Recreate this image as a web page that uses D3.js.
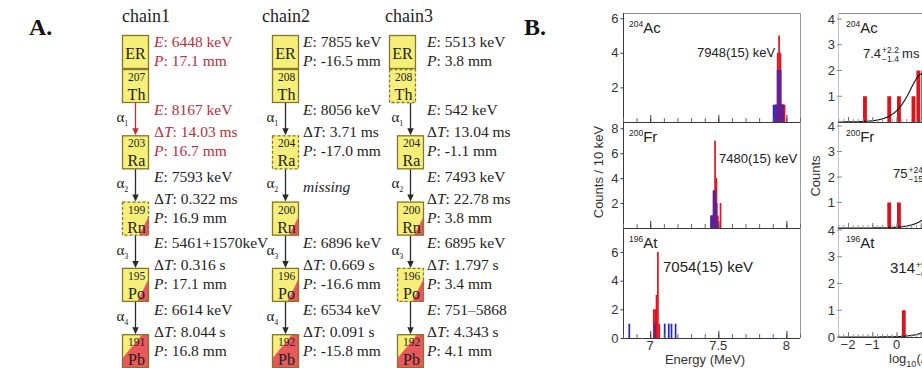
<!DOCTYPE html>
<html>
<head>
<meta charset="utf-8">
<script src="https://cdn.jsdelivr.net/npm/d3@7"></script>
<style>
html, body { margin: 0; padding: 0; background: #fff; }
svg { display: block; }
</style>
</head>
<body>
<svg id="fig" width="922" height="368"></svg>
<script>
// ---------- Panel A: observed decay chains ----------
const chainNames = ["chain1", "chain2", "chain3"];
const erEnergy = ["6448 keV", "7855 keV", "5513 keV"];
const erPosition = ["17.1 mm", "-16.5 mm", "3.8 mm"];
const elements = ["Th", "Ra", "Rn", "Po", "Pb"];
const massNumbers = [
  [207, 203, 199, 195, 191],
  [208, 204, 200, 196, 192],
  [208, 204, 200, 196, 192]
];
// tentative members of a chain (dashed outline)
const tentative = [
  [false, false, true, false, false],
  [false, true, false, false, false],
  [true, false, false, true, false]
];
const decayEnergy = [
  ["8167 keV", "7593 keV", "5461+1570keV", "6614 keV"],
  ["8056 keV", null, "6896 keV", "6534 keV"],
  ["542 keV", "7493 keV", "6895 keV", "751\u20135868 keV"]
];
const decayTime = [
  ["14.03 ms", "0.322 ms", "0.316 s", "8.044 s"],
  ["3.71 ms", null, "0.669 s", "0.091 s"],
  ["13.04 ms", "22.78 ms", "1.797 s", "4.343 s"]
];
const decayPosition = [
  ["16.7 mm", "16.9 mm", "17.1 mm", "16.8 mm"],
  ["-17.0 mm", null, "-16.6 mm", "-15.8 mm"],
  ["-1.1 mm", "3.8 mm", "3.4 mm", "4.1 mm"]
];
const alphaIndex = [[1, 2, 3, 4], [1, 2, 3, 4], [1, 2, 3, null]];

// ---------- Panel B: energy spectra (10 keV bins, [bin start keV, counts]) ----------
const isotopeMass = ["204", "200", "196"];
const isotopeSymbol = ["Ac", "Fr", "At"];
const peakLabels = ["7948(15) keV", "7480(15) keV", "7054(15) keV"];
const energyTicks = [7, 7.5, 8];
const countTicks = [[2, 4, 6], [2, 4, 6, 8], [0, 2, 4, 6]];
const redSpectra = [
  [[7920, 1], [7930, 4], [7940, 5], [7950, 4], [7960, 1], [7970, 1], [7980, 1]],
  [[7450, 1], [7460, 3], [7470, 7], [7480, 4], [7490, 1], [7510, 2]],
  [[7020, 2], [7030, 2], [7040, 3], [7050, 6], [7060, 1]]
];
const blueSpectra = [
  [[7900, 1], [7910, 1], [7920, 1], [7930, 3], [7940, 3], [7950, 3], [7960, 1], [7970, 1]],
  [[7440, 1], [7450, 1], [7460, 3], [7470, 3], [7480, 2]],
  [[6840, 1], [7030, 1], [7100, 1], [7130, 1], [7150, 1], [7180, 1]]
];

// ---------- Panel B: decay-time distributions ([log10 bin start, counts], bin width 0.2) ----------
const timeTicks = [-2, -1, 0];
const timeCountTicks = [[1, 2, 3, 4], [1, 2, 3, 4], [0, 1, 2, 3, 4]];
const timeHist = [
  [[-1.4, 1], [-0.4, 1], [0.0, 1], [0.6, 1], [0.8, 2], [1.0, 2]],
  [[-0.4, 1], [0.0, 1]],
  [[0.2, 1]]
];
const halfLifeMs = [7.4, 75, 314];
const halfLifeText = ["7.4", "75", "314"];
const halfLifeUp = ["+2.2", "+24", "+90"];
const halfLifeDown = ["\u22121.4", "\u221215", "\u221260"];
const fitTotals = [11, 7, 14];

// ---------- drawing ----------
const svg = d3.select("#fig");
svg.append("rect").attr("width", 922).attr("height", 368).attr("fill", "#fff");
const serif = "'Liberation Serif','Times New Roman',serif";
const sans = "'Liberation Sans',Arial,Helvetica,sans-serif";

svg.append("defs").append("clipPath").attr("id", "clipA")
  .append("rect").attr("x", 0).attr("y", 0).attr("width", 511).attr("height", 368);

const YELLOW = "#f6ef7a", BOXRED = "#e8585c", EDGE = "#86762c";
const TXTRED = "#b5313c", INK = "#1e1e1e";

const A = svg.append("g").attr("clip-path", "url(#clipA)").attr("font-family", serif);
svg.append("text").attr("x", 29).attr("y", 35).attr("font-family", serif)
  .attr("font-size", 24).attr("font-weight", "bold").attr("fill", "#111").text("A.");
svg.append("text").attr("x", 524).attr("y", 35).attr("font-family", serif)
  .attr("font-size", 24).attr("font-weight", "bold").attr("fill", "#111").text("B.");

const boxW = 27, boxH = 34;
const erTop = 35, nucTop0 = 69, boxStep = 66.3;
const chainBoxX = [122, 272, 397];
const chainTopBoxX = [122, 272, 389];
const chainTextX = [154, 303, 427];
const chainTitleX = [122, 262, 385];

// red share of each box (alpha-decay fraction shading)
const redShapes = {
  Rn: [[1, 0.42], [1, 1], [0.62, 1]],
  Po: [[1, 0.3], [1, 1], [0.56, 1]],
  Pb: [[0.75, 0], [1, 0], [1, 1], [0, 1], [0, 0.72]]
};

function box(g, x, y, dashed, shape) {
  g.append("rect").attr("x", x).attr("y", y).attr("width", boxW).attr("height", boxH).attr("fill", YELLOW);
  if (shape) {
    g.append("polygon")
      .attr("points", shape.map(([u, v]) => [x + u * boxW, y + v * boxH].join(",")).join(" "))
      .attr("fill", BOXRED);
  }
  g.append("rect").attr("x", x + 0.5).attr("y", y + 0.5).attr("width", boxW - 1).attr("height", boxH - 1)
    .attr("fill", "none").attr("stroke", EDGE).attr("stroke-width", 1.3)
    .attr("stroke-dasharray", dashed ? "3,2" : null);
}

function infoLine(g, x, yc, key, value, color) {
  const t = g.append("text").attr("x", x).attr("y", yc + 5).attr("font-size", 15.5).attr("fill", color);
  if (key === "dT") {
    t.append("tspan").text("\u0394");
    t.append("tspan").attr("font-style", "italic").text("T");
  } else {
    t.append("tspan").attr("font-style", "italic").text(key);
  }
  t.append("tspan").text(": " + value);
}

chainNames.forEach((name, c) => {
  const g = A.append("g");
  const bx = chainBoxX[c], tx = chainTextX[c];
  const ax = bx + boxW / 2;
  g.append("text").attr("x", chainTitleX[c]).attr("y", 22).attr("font-size", 18).attr("fill", "#222").text(name);

  // ER box
  const topX = chainTopBoxX[c];
  box(g, topX, erTop, false, null);
  g.append("text").attr("x", topX + boxW / 2).attr("y", erTop + 24).attr("text-anchor", "middle")
    .attr("font-size", 16).attr("fill", INK).text("ER");
  const erColor = c === 0 ? TXTRED : INK;
  infoLine(g, tx, 42, "E", erEnergy[c], erColor);
  infoLine(g, tx, 61, "P", erPosition[c], erColor);

  // nuclide boxes
  massNumbers[c].forEach((m, k) => {
    const y = nucTop0 + boxStep * k;
    const x = k === 0 ? topX : bx;
    box(g, x, y, tentative[c][k], redShapes[elements[k]] || null);
    g.append("text").attr("x", x + boxW / 2 + 1).attr("y", y + 12).attr("text-anchor", "middle")
      .attr("font-size", 11.5).attr("fill", INK).text(m);
    g.append("text").attr("x", x + boxW / 2 + 1).attr("y", y + 31).attr("text-anchor", "middle")
      .attr("font-size", 16).attr("fill", INK).text(elements[k]);
  });

  // decays between boxes
  for (let i = 0; i < 4; i++) {
    const y0 = nucTop0 + boxStep * i + boxH;
    const y1 = nucTop0 + boxStep * (i + 1);
    const col = (c === 0 && i === 0) ? "#c0303a" : "#2a2a2a";
    g.append("line").attr("x1", ax).attr("x2", ax).attr("y1", y0).attr("y2", y1 - 5)
      .attr("stroke", col).attr("stroke-width", 1.3);
    g.append("path").attr("d", `M${ax - 3.2},${y1 - 7} L${ax + 3.2},${y1 - 7} L${ax},${y1} Z`).attr("fill", col);
    if (alphaIndex[c][i]) {
      const t = g.append("text").attr("x", ax - 19).attr("y", (y0 + y1) / 2 + 3).attr("font-size", 15).attr("fill", "#222");
      t.append("tspan").text("\u03b1");
      t.append("tspan").attr("font-size", 8).attr("dy", 4).text(alphaIndex[c][i]);
    }
    const eY = 110 + 66.5 * i;
    const tc = (c === 0 && i === 0) ? TXTRED : INK;
    if (decayEnergy[c][i] === null) {
      g.append("text").attr("x", tx).attr("y", 192).attr("font-size", 15.5).attr("font-style", "italic")
        .attr("fill", INK).text("missing");
    } else {
      infoLine(g, tx, eY, "E", decayEnergy[c][i], tc);
      infoLine(g, tx, eY + 22, "dT", decayTime[c][i], tc);
      infoLine(g, tx, eY + 41, "P", decayPosition[c][i], tc);
    }
  }
});

// ---------- Panel B left: alpha-energy spectra ----------
const B = svg.append("g").attr("font-family", sans);
const SPRED = "#e0141e", SPBLUE = "#2626c4", SPPURPLE = "#6a1f8e", AXC = "#3a3a3a", TICKC = "#333";
const xE = d3.scaleLinear().domain([6.8, 8.1]).range([623, 800]);
const specRows = [
  { top: 13, bottom: 122, max: 6.3 },
  { top: 122, bottom: 228, max: 8.5 },
  { top: 228, bottom: 338, max: 7.67 }
];
const minorE = d3.range(68, 82).map(v => v / 10);

// frame
B.append("line").attr("x1", 623).attr("x2", 800).attr("y1", 13.5).attr("y2", 13.5).attr("stroke", "#8a8a8a");
B.append("line").attr("x1", 800.5).attr("x2", 800.5).attr("y1", 13).attr("y2", 338).attr("stroke", "#9a9a9a");
B.append("line").attr("x1", 623.5).attr("x2", 623.5).attr("y1", 13).attr("y2", 338).attr("stroke", AXC);

specRows.forEach((row, i) => {
  const y = d3.scaleLinear().domain([0, row.max]).range([row.bottom, row.top]);
  const g = B.append("g");
  const binX = e => xE(e / 1000);
  const binW = e => xE((e + 10) / 1000) - xE(e / 1000) + 0.35;
  g.selectAll(".r").data(redSpectra[i]).join("rect")
    .attr("x", d => binX(d[0])).attr("width", d => binW(d[0]))
    .attr("y", d => y(d[1])).attr("height", d => y(0) - y(d[1])).attr("fill", SPRED);
  g.selectAll(".b").data(blueSpectra[i]).join("rect")
    .attr("x", d => binX(d[0])).attr("width", d => binW(d[0]))
    .attr("y", d => y(d[1])).attr("height", d => y(0) - y(d[1])).attr("fill", SPBLUE);
  const redMap = new Map(redSpectra[i]);
  const overlap = blueSpectra[i].filter(d => redMap.has(d[0]))
    .map(d => [d[0], Math.min(d[1], redMap.get(d[0]))]);
  g.selectAll(".o").data(overlap).join("rect")
    .attr("x", d => binX(d[0])).attr("width", d => binW(d[0]))
    .attr("y", d => y(d[1])).attr("height", d => y(0) - y(d[1])).attr("fill", SPPURPLE);

  // bottom axis line + inward ticks
  g.append("line").attr("x1", 623).attr("x2", 800).attr("y1", row.bottom + 0.5).attr("y2", row.bottom + 0.5)
    .attr("stroke", AXC).attr("stroke-width", 1.1);
  const tg = g.append("g").attr("transform", `translate(0,${row.bottom})`);
  tg.call(d3.axisBottom(xE).tickValues(minorE).tickSize(-4).tickFormat(""));
  tg.call(g2 => g2.select(".domain").remove());
  tg.selectAll("line").attr("stroke", "#666");
  const mg = g.append("g").attr("transform", `translate(0,${row.bottom})`);
  mg.call(d3.axisBottom(xE).tickValues(energyTicks).tickSize(-7).tickFormat(""));
  mg.call(g2 => g2.select(".domain").remove());
  mg.selectAll("line").attr("stroke", AXC);

  // y axis labels
  const yg = g.append("g").attr("transform", "translate(623.5,0)");
  yg.call(d3.axisLeft(y).tickValues(countTicks[i]).tickSize(3).tickPadding(2).tickFormat(d3.format("d")));
  yg.call(g2 => g2.select(".domain").remove());
  yg.selectAll("text").attr("font-family", sans).attr("font-size", 13).attr("fill", TICKC);
  yg.selectAll("line").attr("stroke", AXC);

  // isotope label
  const lab = g.append("text").attr("x", 629).attr("y", row.top + 20).attr("fill", "#222");
  lab.append("tspan").attr("font-size", 8.5).attr("dy", -6).text(isotopeMass[i]);
  lab.append("tspan").attr("font-size", 15).attr("dy", 6).text(isotopeSymbol[i]);
});

// peak labels
B.append("text").attr("x", 697).attr("y", 57).attr("font-size", 13).attr("fill", "#222").text(peakLabels[0]);
B.append("text").attr("x", 719).attr("y", 163).attr("font-size", 13).attr("fill", "#222").text(peakLabels[1]);
B.append("text").attr("x", 663).attr("y", 272).attr("font-size", 15).attr("fill", "#222").text(peakLabels[2]);

// energy axis labels
B.selectAll(".etl").data(energyTicks).join("text")
  .attr("x", d => xE(d)).attr("y", 350).attr("text-anchor", "middle")
  .attr("font-size", 13).attr("fill", TICKC).text(d => d);
B.append("text").attr("x", 705).attr("y", 364).attr("text-anchor", "middle")
  .attr("font-size", 13).attr("fill", "#333").text("Energy (MeV)");
B.append("text").attr("transform", "translate(603,172) rotate(-90)").attr("text-anchor", "middle")
  .attr("font-size", 13).attr("fill", "#333").text("Counts / 10 keV");

// ---------- Panel B right: decay-time distributions ----------
const T = svg.append("g").attr("font-family", sans);
const xT = d3.scaleLinear().domain([-2, 0]).range([848, 896.5]);
const timeRows = [
  { top: 13, bottom: 122, y4: 19 },
  { top: 122, bottom: 228, y4: 126 },
  { top: 228, bottom: 337, y4: 230 }
];
T.append("line").attr("x1", 838).attr("x2", 922).attr("y1", 13.5).attr("y2", 13.5).attr("stroke", "#8a8a8a");
T.append("line").attr("x1", 838.5).attr("x2", 838.5).attr("y1", 13).attr("y2", 337).attr("stroke", "#c4c4c4");
const minorT = d3.range(-12, 22).map(v => v / 5);

timeRows.forEach((row, i) => {
  const y = d3.scaleLinear().domain([0, 4]).range([row.bottom, row.y4]);
  const g = T.append("g");
  g.selectAll("rect").data(timeHist[i]).join("rect")
    .attr("x", d => xT(d[0]) + 0.5).attr("width", d => xT(d[0] + 0.2) - xT(d[0]) - 1)
    .attr("y", d => y(d[1])).attr("height", d => y(0) - y(d[1])).attr("fill", "#d8141e");

  // fit: decay-time density in log10 bins from the quoted half-life
  const lambda = Math.LN2 / halfLifeMs[i];
  const pts = d3.range(-2.42, 1.2, 0.01).map(u => {
    const lt = lambda * Math.pow(10, u);
    return [u, fitTotals[i] * Math.LN10 * 0.2 * lt * Math.exp(-lt)];
  });
  g.append("path").datum(pts)
    .attr("d", d3.line().x(d => xT(d[0])).y(d => y(d[1])))
    .attr("fill", "none").attr("stroke", "#111").attr("stroke-width", 1.1);

  // bottom axis + ticks
  g.append("line").attr("x1", 838).attr("x2", 922).attr("y1", row.bottom + 0.5).attr("y2", row.bottom + 0.5)
    .attr("stroke", AXC).attr("stroke-width", 1.1);
  const tg = g.append("g").attr("transform", `translate(0,${row.bottom})`);
  tg.call(d3.axisBottom(xT).tickValues(minorT).tickSize(-3).tickFormat(""));
  tg.call(g2 => g2.select(".domain").remove());
  tg.selectAll("line").attr("stroke", "#9a9a9a");
  const mg = g.append("g").attr("transform", `translate(0,${row.bottom})`);
  mg.call(d3.axisBottom(xT).tickValues([-2, -1, 0, 1, 2]).tickSize(-5).tickFormat(""));
  mg.call(g2 => g2.select(".domain").remove());
  mg.selectAll("line").attr("stroke", "#777");

  // y ticks
  timeCountTicks[i].forEach(v => {
    g.append("line").attr("x1", 837).attr("x2", 842).attr("y1", y(v)).attr("y2", y(v)).attr("stroke", "#8a8a8a");
    g.append("text").attr("x", 835).attr("y", y(v) + 4.5).attr("text-anchor", "end")
      .attr("font-size", 13).attr("fill", TICKC).text(v);
  });

  // isotope label
  const lab = g.append("text").attr("x", 846).attr("y", row.top + 20).attr("fill", "#222");
  lab.append("tspan").attr("font-size", 8.5).attr("dy", -6).text(isotopeMass[i]);
  lab.append("tspan").attr("font-size", 15).attr("dy", 6).text(isotopeSymbol[i]);
});

// half-life labels
const hlPos = [{ x: 863, y: 58, fs: 13 }, { x: 893, y: 178, fs: 13 }, { x: 890, y: 273, fs: 15 }];
hlPos.forEach((p, i) => {
  const t = T.append("text").attr("x", p.x).attr("y", p.y).attr("font-size", p.fs).attr("fill", "#222")
    .text(halfLifeText[i]);
  const w = t.node().getComputedTextLength();
  T.append("text").attr("x", p.x + w + 1).attr("y", p.y - 5).attr("font-size", 8.5).attr("fill", "#222").text(halfLifeUp[i]);
  T.append("text").attr("x", p.x + w + 1).attr("y", p.y + 4).attr("font-size", 8.5).attr("fill", "#222").text(halfLifeDown[i]);
  T.append("text").attr("x", p.x + w + 21).attr("y", p.y).attr("font-size", p.fs).attr("fill", "#222").text("ms");
});

// time axis labels
T.selectAll(".ttl").data(timeTicks).join("text")
  .attr("x", d => xT(d)).attr("y", 349).attr("text-anchor", "middle")
  .attr("font-size", 13).attr("fill", TICKC).text(d => d === 0 ? "0" : "\u2212" + Math.abs(d));
const xl = T.append("text").attr("x", 889).attr("y", 363).attr("font-size", 13).attr("fill", "#333");
xl.append("tspan").text("log");
xl.append("tspan").attr("font-size", 9).attr("dy", 4).text("10");
xl.append("tspan").attr("dy", -4).text("(\u0394t / ms)");
T.append("text").attr("transform", "translate(820,176) rotate(-90)").attr("text-anchor", "middle")
  .attr("font-size", 13).attr("fill", "#333").text("Counts");
</script>
</body>
</html>
